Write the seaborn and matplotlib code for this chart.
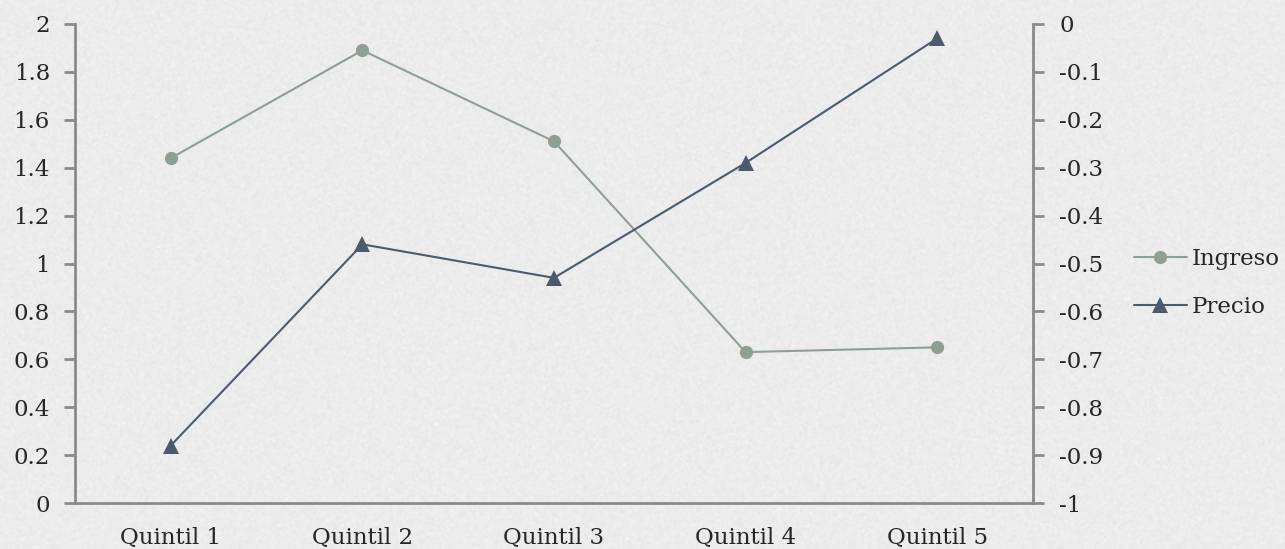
import numpy as np
import pandas as pd
import matplotlib
matplotlib.use("Agg")
import matplotlib.pyplot as plt
from matplotlib.lines import Line2D
import seaborn as sns

# Data
quintiles = ["Quintil 1", "Quintil 2", "Quintil 3", "Quintil 4", "Quintil 5"]
ingreso = [1.44, 1.89, 1.51, 0.63, 0.65]
precio = [-0.88, -0.46, -0.53, -0.29, -0.03]

left_ticks = [0, 0.2, 0.4, 0.6, 0.8, 1, 1.2, 1.4, 1.6, 1.8, 2]
right_ticks = [-1, -0.9, -0.8, -0.7, -0.6, -0.5, -0.4, -0.3, -0.2, -0.1, 0]

ingreso_color = "#8e9f93"
precio_color = "#4b5a6d"
axis_color = "#8a8a8a"
text_color = "#262626"
bg_color = "#ececec"
FS = 16.5

sns.set_theme(style="white")
plt.rcParams["font.family"] = ["DejaVu Serif"]
plt.rcParams["axes.unicode_minus"] = False

df = pd.DataFrame({"quintil": quintiles, "ingreso": ingreso, "precio": precio})
df["pos"] = np.arange(len(quintiles))

W, H = 1285, 549
fig = plt.figure(figsize=(W / 100, H / 100), dpi=100, facecolor=bg_color)

# subtle paper texture behind everything
rng = np.random.default_rng(7)
noise = rng.normal(0, 1, (H, W))
k = np.ones(3) / 3
noise = np.apply_along_axis(lambda r: np.convolve(r, k, mode="same"), 1, noise)
noise = np.apply_along_axis(lambda c: np.convolve(c, k, mode="same"), 0, noise)
tex = 0.925 + 0.022 * noise
tex = np.clip(tex, 0, 1)
fig.figimage(np.dstack([tex, tex, tex]), xo=0, yo=0, zorder=-10)

ax = fig.add_axes([75 / W, 1 - 503 / H, (1033 - 75) / W, (503 - 24) / H])
ax.patch.set_alpha(0)
ax2 = ax.twinx()
ax2.patch.set_alpha(0)

sns.lineplot(data=df, x="pos", y="ingreso", ax=ax, color=ingreso_color,
             marker="o", markersize=9.5, markeredgewidth=0, linewidth=1.5,
             legend=False)
sns.lineplot(data=df, x="pos", y="precio", ax=ax2, color=precio_color,
             marker="^", markersize=11.5, markeredgewidth=0, linewidth=1.5,
             legend=False)

ax.set_xlim(-0.5, len(quintiles) - 0.5)
ax.set_ylim(0, 2)
ax2.set_ylim(-1, 0)

ax.set_yticks(left_ticks)
ax.set_yticklabels([f"{v:g}" for v in left_ticks])
ax2.set_yticks(right_ticks)
ax2.set_yticklabels([f"{v:g}" for v in right_ticks])

# category boundaries carry the ticks, labels sit at centres
ax.set_xticks(np.arange(len(quintiles) + 1) - 0.5)
ax.set_xticklabels([])
ax.set_xticks(np.arange(len(quintiles)), minor=True)
ax.set_xticklabels(quintiles, minor=True)
ax.tick_params(axis="x", which="minor", length=0, pad=17)
ax.tick_params(axis="x", which="major", length=8, width=2, color=axis_color, direction="out")

ax.tick_params(axis="y", length=8, width=2, color=axis_color, direction="out", pad=10)
ax2.tick_params(axis="y", length=8, width=2, color=axis_color, direction="out", pad=11)

for a in (ax, ax2):
    for s in a.spines.values():
        s.set_visible(False)
    a.set_xlabel("")
    a.set_ylabel("")
    for lab in a.get_xticklabels(which="both") + a.get_yticklabels():
        lab.set_fontsize(FS)
        lab.set_color(text_color)

ax.spines["left"].set_visible(True)
ax.spines["bottom"].set_visible(True)
ax2.spines["right"].set_visible(True)
for s in (ax.spines["left"], ax.spines["bottom"], ax2.spines["right"]):
    s.set_color(axis_color)
    s.set_linewidth(2)

handles = [
    Line2D([], [], color=ingreso_color, marker="o", markersize=9.5,
           markeredgewidth=0, linewidth=1.5, label="Ingreso"),
    Line2D([], [], color=precio_color, marker="^", markersize=11.5,
           markeredgewidth=0, linewidth=1.5, label="Precio"),
]
fig.legend(handles=handles, loc="center left", bbox_to_anchor=(1134 / W, 1 - 283 / H),
           frameon=False, fontsize=FS, handlelength=2.3, handletextpad=0.2,
           labelspacing=1.15, labelcolor=text_color, borderpad=0, borderaxespad=0)

fig.savefig("out.png", dpi=100, facecolor=bg_color)
